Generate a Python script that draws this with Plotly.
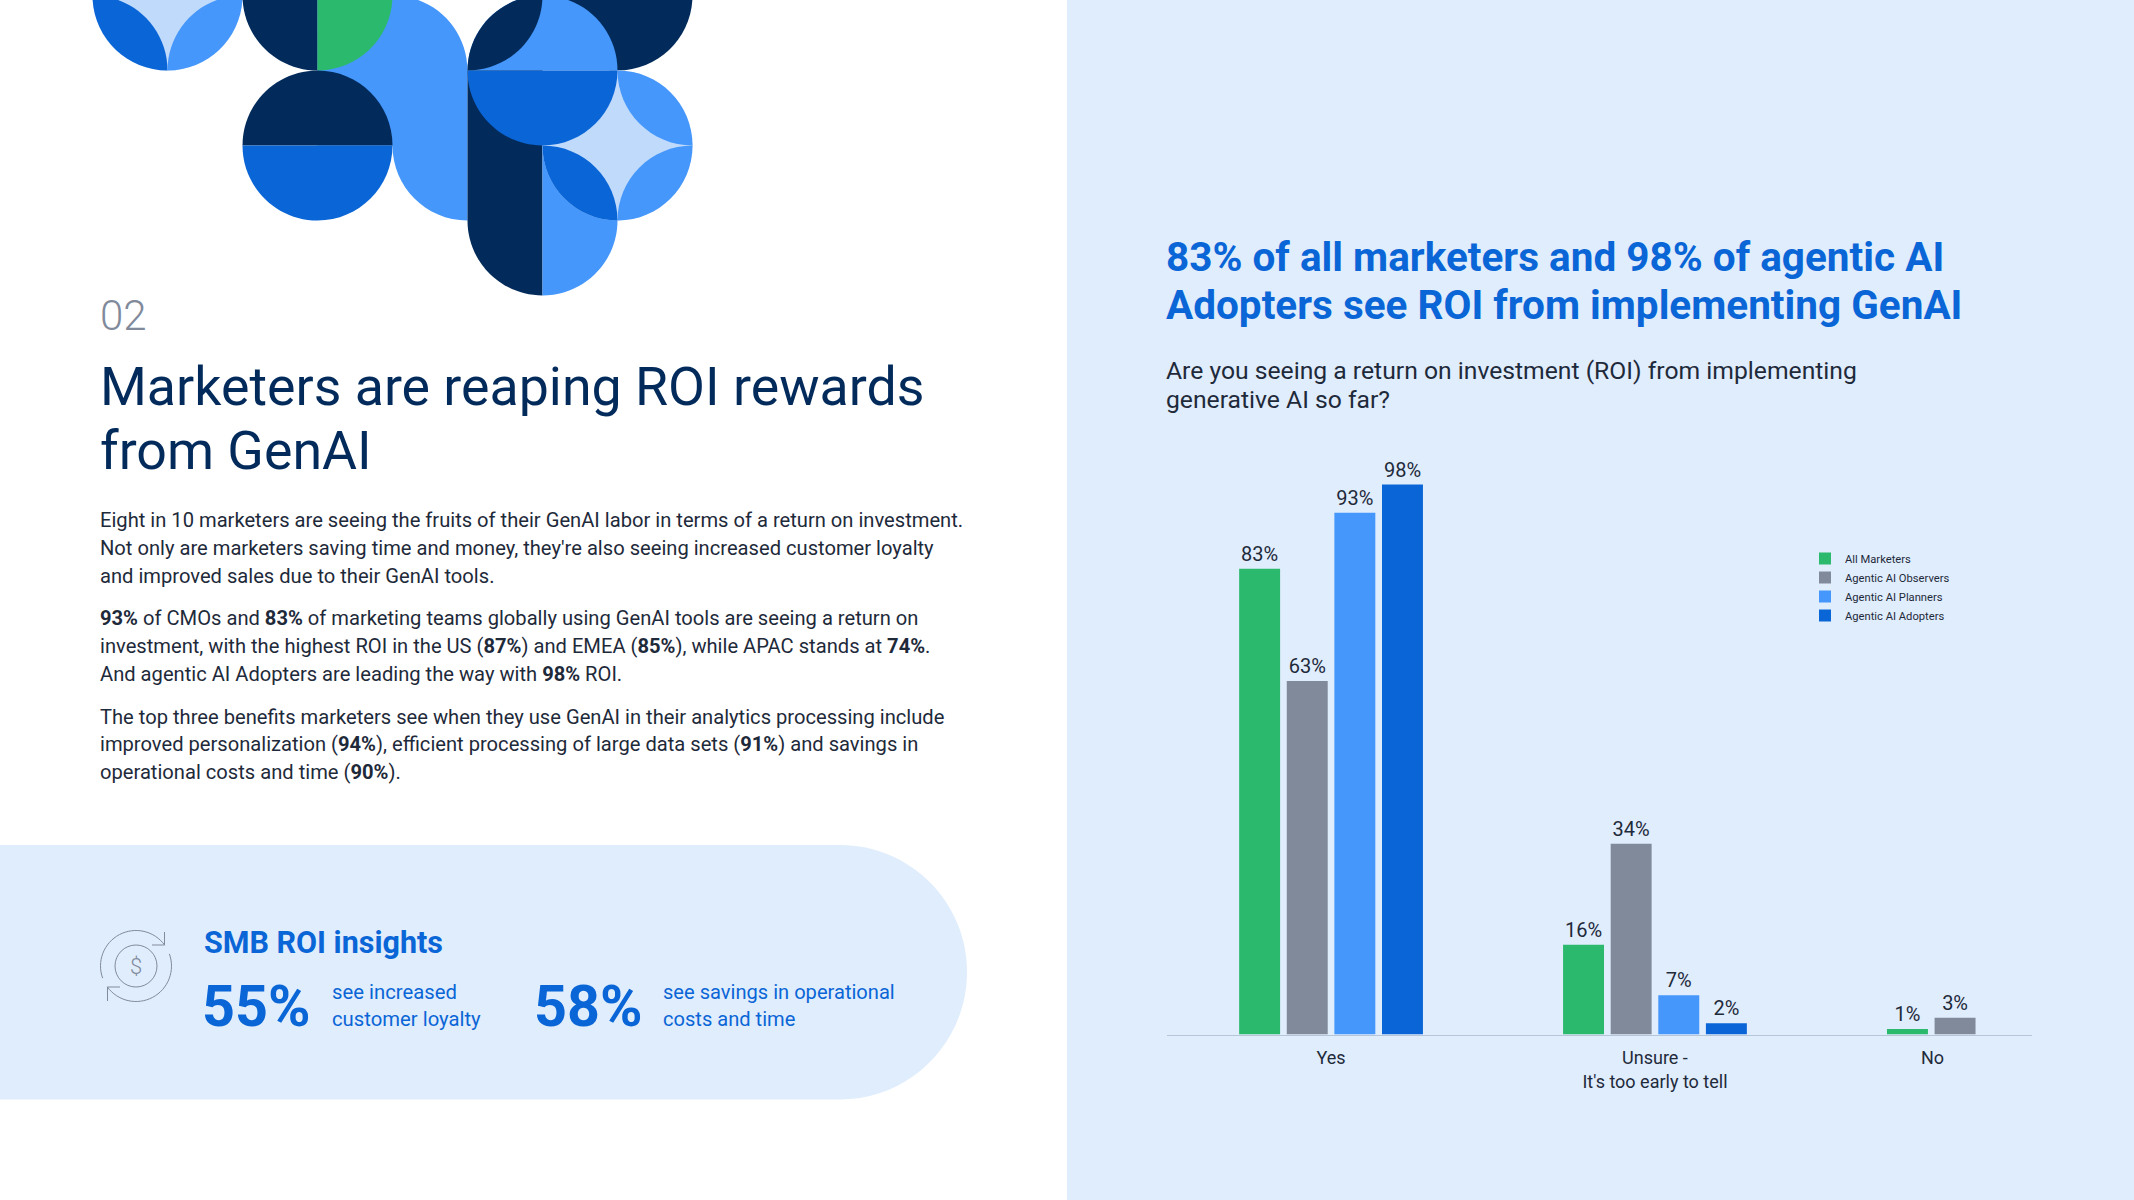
import math
import plotly.graph_objects as go

WIDTH = 2134
HEIGHT = 1200

# Colours
NAVY = '#022B5B'
PRIMARY = '#0A66D6'
BLUE = '#4597FB'
LIGHT = '#C0DAFC'
GREEN = '#2BB96D'
GRAY = '#818A9B'
PANEL = '#E0EDFD'
INK = '#1E2A3A'

BODY_FONT = 'Roboto'

# Chart data
categories = ['Yes', 'Unsure -<br>It\'s too early to tell', 'No']
category_x = [0, 1, 2]
tick_x = [0, 1, 1.857]
all_marketers = [83, 16, 1]
observers = [63, 34, 3]
planners = [93, 7, None]
adopters = [98, 2, None]
series_names = ['All Marketers', 'Agentic AI Observers', 'Agentic AI Planners', 'Agentic AI Adopters']

# Page text
section_no = '02'
page_title = ['Marketers are reaping ROI rewards', 'from GenAI']
body_lines = [
    ('Eight in 10 marketers are seeing the fruits of their GenAI labor in terms of a return on investment.', 520),
    ('Not only are marketers saving time and money, they\'re also seeing increased customer loyalty', 548),
    ('and improved sales due to their GenAI tools.', 576),
    ('<b>93%</b> of CMOs and <b>83%</b> of marketing teams globally using GenAI tools are seeing a return on', 618),
    ('investment, with the highest ROI in the US (<b>87%</b>) and EMEA (<b>85%</b>), while APAC stands at <b>74%</b>.', 646),
    ('And agentic AI Adopters are leading the way with <b>98%</b> ROI.', 674),
    ('The top three benefits marketers see when they use GenAI in their analytics processing include', 717),
    ('improved personalization (<b>94%</b>), efficient processing of large data sets (<b>91%</b>) and savings in', 744),
    ('operational costs and time (<b>90%</b>).', 772),
]
chart_title = ['83% of all marketers and 98% of agentic AI', 'Adopters see ROI from implementing GenAI']
chart_question = ['Are you seeing a return on investment (ROI) from implementing', 'generative AI so far?']


def fx(x):
    return x / WIDTH


def fy(y):
    return 1 - y / HEIGHT


def build_path(start, *segments):
    # segments are ('L', point) or ('A', point, centre) where A is a quarter arc
    out = [f'M{fx(start[0]):.5f},{fy(start[1]):.5f}']
    cur = start
    for seg in segments:
        if seg[0] == 'L':
            out.append(f'L{fx(seg[1][0]):.5f},{fy(seg[1][1]):.5f}')
            cur = seg[1]
        else:
            p, c = seg[1], seg[2]
            k = 0.5523
            c1 = (cur[0] + k * (p[0] - c[0]), cur[1] + k * (p[1] - c[1]))
            c2 = (p[0] + k * (cur[0] - c[0]), p[1] + k * (cur[1] - c[1]))
            out.append(f'C{fx(c1[0]):.5f},{fy(c1[1]):.5f} {fx(c2[0]):.5f},{fy(c2[1]):.5f} {fx(p[0]):.5f},{fy(p[1]):.5f}')
            cur = p
    return ' '.join(out) + ' Z'


def fill_shape(path, color):
    return dict(type='path', xref='paper', yref='paper', path=path, fillcolor=color,
                line=dict(width=0), layer='below')


# Grid of the decoration, cell 75px
def gx(i):
    return 92.5 + 75 * i


def gy(j):
    return -4.5 + 75 * j


def g(i, j):
    return (gx(i), gy(j))


def half_down(ci, cj, color):
    return fill_shape(build_path(g(ci - 1, cj), ('A', g(ci, cj + 1), g(ci, cj)), ('A', g(ci + 1, cj), g(ci, cj))), color)


def half_up(ci, cj, color):
    return fill_shape(build_path(g(ci - 1, cj), ('A', g(ci, cj - 1), g(ci, cj)), ('A', g(ci + 1, cj), g(ci, cj))), color)


def quarter(c, a, b, color):
    return fill_shape(build_path(g(*c), ('L', g(*a)), ('A', g(*b), g(*c))), color)


def lens(a, b, c1, c2, color):
    return fill_shape(build_path(g(*a), ('A', g(*b), g(*c1)), ('A', g(*a), g(*c2))), color)


def circle(ci, cj, color):
    return fill_shape(build_path(g(ci - 1, cj), ('A', g(ci, cj - 1), g(ci, cj)), ('A', g(ci + 1, cj), g(ci, cj)),
                                 ('A', g(ci, cj + 1), g(ci, cj)), ('A', g(ci - 1, cj), g(ci, cj))), color)


shapes = [
    # Backgrounds
    fill_shape(build_path((1067, 0), ('L', (WIDTH, 0)), ('L', (WIDTH, HEIGHT)), ('L', (1067, HEIGHT))), PANEL),
    fill_shape(build_path((0, 845), ('L', (840, 845)), ('A', (967, 972), (840, 972)), ('A', (840, 1099.5), (840, 972)),
                          ('L', (0, 1099.5))), PANEL),
    # Top left flower
    circle(1, 0, LIGHT),
    lens((1, 1), (0, 0), (1, 0), (0, 1), PRIMARY),
    lens((1, 1), (2, 0), (1, 0), (2, 1), BLUE),
    # Blue strip behind the navy half circles
    fill_shape(build_path(g(3, 0), ('L', g(4, 0)), ('A', g(5, 1), g(4, 1)), ('L', g(5, 3)), ('A', g(4, 2), g(5, 2)),
                          ('L', g(3, 2))), BLUE),
    quarter((3, 0), (2, 0), (3, 1), NAVY),
    quarter((3, 0), (3, 1), (4, 0), GREEN),
    half_up(3, 2, NAVY),
    half_down(3, 2, PRIMARY),
    # Right hand column
    half_down(7, 0, NAVY),
    half_up(6, 1, BLUE),
    lens((5, 1), (6, 0), (6, 1), (5, 0), NAVY),
    fill_shape(build_path(g(5, 1), ('L', g(6, 1)), ('L', g(6, 4)), ('A', g(5, 3), g(6, 3))), NAVY),
    fill_shape(build_path(g(6, 2), ('L', g(7, 2)), ('L', g(7, 3)), ('A', g(6, 4), g(6, 3)), ('L', g(6, 2))), BLUE),
    circle(7, 2, LIGHT),
    lens((6, 2), (7, 3), (7, 2), (6, 3), PRIMARY),
    lens((7, 1), (8, 2), (7, 2), (8, 1), BLUE),
    lens((8, 2), (7, 3), (7, 2), (8, 3), BLUE),
    half_down(6, 1, PRIMARY),
]


def arc_path(cx, cy, r, start_deg, end_deg):
    steps = 4
    a0 = math.radians(start_deg)
    a1 = math.radians(end_deg)
    h = (a1 - a0) / steps
    t = 4 / 3 * math.tan(h / 4)
    out = []
    for n in range(steps):
        s = a0 + n * h
        e = s + h
        x0, y0 = cx + r * math.cos(s), cy + r * math.sin(s)
        x1, y1 = cx + r * math.cos(e), cy + r * math.sin(e)
        if n == 0:
            out.append(f'M{fx(x0):.5f},{fy(y0):.5f}')
        c1 = (x0 - t * r * math.sin(s), y0 + t * r * math.cos(s))
        c2 = (x1 + t * r * math.sin(e), y1 - t * r * math.cos(e))
        out.append(f'C{fx(c1[0]):.5f},{fy(c1[1]):.5f} {fx(c2[0]):.5f},{fy(c2[1]):.5f} {fx(x1):.5f},{fy(y1):.5f}')
    return ' '.join(out)


def line_shape(path):
    return dict(type='path', xref='paper', yref='paper', path=path, line=dict(color=GRAY, width=1),
                fillcolor='rgba(0,0,0,0)', layer='above')


def polyline(points):
    return ' '.join(('M' if n == 0 else 'L') + f'{fx(p[0]):.5f},{fy(p[1]):.5f}' for n, p in enumerate(points))


# Icon next to SMB ROI insights
shapes += [
    line_shape(arc_path(136, 966, 35.5, 160, 324)),
    line_shape(arc_path(136, 966, 35.5, -20, 144)),
    line_shape(arc_path(136, 966, 21, 0, 360)),
    line_shape(polyline([(152, 945), (164.5, 945), (164.5, 932)])),
    line_shape(polyline([(120, 987), (107.5, 987), (107.5, 1001)])),
]

annotations = []


def add_text(text, x, y, size, color=INK, weight=400, family=BODY_FONT, anchor='left'):
    annotations.append(dict(text=text, x=fx(x), y=fy(y), xref='paper', yref='paper', xanchor=anchor, yanchor='middle',
                            showarrow=False, align='left', borderpad=0,
                            font=dict(family=family, size=size, color=color, weight=weight)))


add_text(section_no, 99, 316, 42, GRAY, 300)
add_text(page_title[0], 99, 386, 53.7, NAVY)
add_text(page_title[1], 99, 450, 53.7, NAVY)
for line, y in body_lines:
    add_text(line, 99, y, 20.15)

add_text('SMB ROI insights', 203, 942, 30.5, PRIMARY, 700)
add_text('55%', 201, 1007, 57.5, PRIMARY, 700)
add_text('see increased', 331, 992, 20.3, PRIMARY)
add_text('customer loyalty', 331, 1019, 20.3, PRIMARY)
add_text('58%', 533, 1007, 57.5, PRIMARY, 700)
add_text('see savings in operational', 662, 992, 20.1, PRIMARY)
add_text('costs and time', 662, 1019, 20.1, PRIMARY)
add_text('$', 136, 966, 22, GRAY, 300, anchor='center')

add_text(chart_title[0], 1165, 257, 40.5, PRIMARY, 700)
add_text(chart_title[1], 1165, 305, 40.5, PRIMARY, 700)
add_text(chart_question[0], 1165, 370, 24.7, INK)
add_text(chart_question[1], 1165, 399, 24.7, INK)

fig = go.Figure()
series_values = [all_marketers, observers, planners, adopters]
series_colors = [GREEN, GRAY, BLUE, PRIMARY]
for name, values, color in zip(series_names, series_values, series_colors):
    fig.add_trace(go.Bar(
        x=category_x, y=values, name=name, marker=dict(color=color, line=dict(width=0)),
        text=[None if v is None else f'{v}%' for v in values], textposition='outside', textangle=0,
        textfont=dict(family=BODY_FONT, size=20, color=INK), cliponaxis=False,
    ))

fig.update_layout(
    width=WIDTH, height=HEIGHT, autosize=False,
    margin=dict(l=0, r=0, t=0, b=0),
    paper_bgcolor='white', plot_bgcolor='rgba(0,0,0,0)',
    barmode='group', bargap=0.412, bargroupgap=0.14,
    shapes=shapes, annotations=annotations,
    showlegend=True,
    legend=dict(x=fx(1805), y=fy(544), xanchor='left', yanchor='top', bgcolor='rgba(0,0,0,0)', borderwidth=0,
                font=dict(family=BODY_FONT, size=11.2, color=INK), itemclick=False, itemdoubleclick=False),
    xaxis=dict(domain=[fx(1166.5), fx(2032)], range=[-0.508, 2.164], tickmode='array', tickvals=tick_x,
               ticktext=categories, showgrid=False, zeroline=False, showline=True, linecolor='#B6C5D8', linewidth=1,
               ticks='', tickfont=dict(family=BODY_FONT, size=18, color=INK), tickangle=0, ticklabelstandoff=7),
    yaxis=dict(domain=[fy(1034.6), fy(1034.6 - 113 * 5.612)], range=[0, 113], visible=False),
)

# drop the browser's default body margin so the page fills the window
fig.write_html("out.html", config={'displayModeBar': False}, post_script="document.body.style.margin='0';")
